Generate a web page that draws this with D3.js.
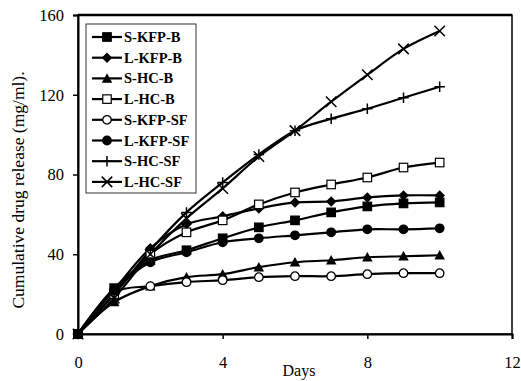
<!DOCTYPE html>
<html>
<head>
<meta charset="utf-8">
<script src="https://cdn.jsdelivr.net/npm/d3@7"></script>
<style>
  body { margin: 0; background: #fff; }
  svg { display: block; }
  text { font-family: "Liberation Serif", "Times New Roman", serif; fill: #000; }
</style>
</head>
<body>
<div id="chart"></div>
<script>
// data
var days = [0, 1, 2, 3, 4, 5, 6, 7, 8, 9, 10];
var sKfpB  = [0, 23, 37, 42, 48, 53.5, 57, 61, 64, 65.5, 66];
var lKfpB  = [0, 22, 43, 55, 59, 63, 66, 66.5, 68.5, 69.5, 69.5];
var sHcB   = [0, 16, 24, 28.5, 30, 33.5, 36, 37, 38.5, 39, 39.5];
var lHcB   = [0, 20, 40, 51, 57, 65, 71, 75, 78.5, 83.5, 86];
var sKfpSF = [0, 21, 24, 26, 27, 28.5, 29, 29, 30, 30.5, 30.5];
var lKfpSF = [0, 22, 36, 41, 46, 48, 49.5, 51, 52.5, 52.5, 53];
var sHcSF  = [0, 20, 42, 61, 76, 90, 102, 108, 113, 118.5, 124];
var lHcSF  = [0, 18, 40, 58, 73, 89, 102, 116.5, 130, 143, 152];
var names  = ["S-KFP-B", "L-KFP-B", "S-HC-B", "L-HC-B", "S-KFP-SF", "L-KFP-SF", "S-HC-SF", "L-HC-SF"];
var xTicks = [0, 4, 8, 12];
var yTicks = [0, 40, 80, 120, 160];

var series = [sKfpB, lKfpB, sHcB, lHcB, sKfpSF, lKfpSF, sHcSF, lHcSF];
var markers = ["fsquare", "diamond", "triangle", "osquare", "ocircle", "fcircle", "plus", "cross"];

var svgWidth = 521, svgHeight = 381;
var margin = { top: 15, right: 9, bottom: 47, left: 78 };
var width = svgWidth - margin.left - margin.right;
var height = svgHeight - margin.top - margin.bottom;

var svg = d3.select("#chart").append("svg")
  .attr("width", svgWidth)
  .attr("height", svgHeight);

var g = svg.append("g")
  .attr("transform", `translate(${margin.left}, ${margin.top})`);

var x = d3.scaleLinear().domain([0, 12]).range([0, width]);
var y = d3.scaleLinear().domain([0, 160]).range([height, 0]);

// frame
g.append("rect")
  .attr("width", width).attr("height", height)
  .attr("fill", "none").attr("stroke", "#000").attr("stroke-width", 1.5);
g.append("line").attr("x1", 0).attr("x2", width).attr("y1", 0).attr("y2", 0)
  .attr("stroke", "#000").attr("stroke-width", 2.5);

// axes
var xAxis = g.append("g")
  .attr("transform", `translate(0, ${height})`)
  .call(d3.axisBottom(x).tickValues(xTicks).tickSize(5).tickPadding(17));
var yAxis = g.append("g")
  .call(d3.axisLeft(y).tickValues(yTicks).tickSize(5).tickPadding(9));
[xAxis, yAxis].forEach(function(a) {
  a.select(".domain").attr("stroke-width", 2);
  a.selectAll(".tick line").attr("stroke-width", 1.5);
  a.selectAll("text").style("font-family", '"Liberation Serif", serif').style("font-size", "16.5px");
});

// marker drawing
function drawMarker(sel, type, s) {
  var h = s / 2;
  if (type === "fsquare" || type === "osquare") {
    sel.append("rect").attr("x", -h).attr("y", -h).attr("width", s).attr("height", s)
      .attr("fill", type === "fsquare" ? "#000" : "#fff").attr("stroke", "#000").attr("stroke-width", 1.2);
  } else if (type === "diamond") {
    sel.append("path").attr("d", `M0,${-h - 1}L${h + 1},0L0,${h + 1}L${-h - 1},0Z`).attr("fill", "#000");
  } else if (type === "triangle") {
    sel.append("path").attr("d", `M0,${-h - 1}L${h + 1},${h}L${-h - 1},${h}Z`).attr("fill", "#000");
  } else if (type === "ocircle" || type === "fcircle") {
    sel.append("circle").attr("r", h)
      .attr("fill", type === "fcircle" ? "#000" : "#fff").attr("stroke", "#000").attr("stroke-width", 1.3);
  } else if (type === "plus") {
    sel.append("path").attr("d", `M0,${-h - 1}V${h + 1}M${-h - 1},0H${h + 1}`)
      .attr("stroke", "#000").attr("stroke-width", 1.5);
  } else if (type === "cross") {
    sel.append("path").attr("d", `M${-h - 1},${-h - 1}L${h + 1},${h + 1}M${h + 1},${-h - 1}L${-h - 1},${h + 1}`)
      .attr("stroke", "#000").attr("stroke-width", 1.5);
  }
}

var line = d3.line()
  .x((d, i) => x(days[i]))
  .y(d => y(d))
  .curve(d3.curveCatmullRom.alpha(0.5));

series.forEach(function(vals, k) {
  g.append("path").datum(vals)
    .attr("d", line)
    .attr("fill", "none").attr("stroke", "#000").attr("stroke-width", 2.2);
});
series.forEach(function(vals, k) {
  g.selectAll(".m" + k).data(vals).enter().append("g")
    .attr("transform", (d, i) => `translate(${x(days[i])}, ${y(d)})`)
    .each(function() { drawMarker(d3.select(this), markers[k], 8.5); });
});

// legend
var legend = svg.append("g").attr("transform", "translate(86, 24)");
legend.append("rect").attr("width", 110).attr("height", 169)
  .attr("fill", "#fff").attr("stroke", "#333").attr("stroke-width", 1);
names.forEach(function(n, k) {
  var row = legend.append("g").attr("transform", `translate(0, ${13 + k * 20.7})`);
  row.append("line").attr("x1", 6).attr("x2", 36).attr("stroke", "#000").attr("stroke-width", 2.2);
  drawMarker(row.append("g").attr("transform", "translate(21,0)"), markers[k], 8.5);
  row.append("text").attr("x", 38).attr("dy", "0.35em")
    .style("font-size", "14.5px").style("font-weight", "bold").text(n);
});

// axis labels
svg.append("text")
  .attr("transform", "translate(24, 190) rotate(-90)")
  .attr("text-anchor", "middle")
  .style("font-size", "17.5px")
  .text("Cumulative drug release (mg/ml).");

svg.append("text")
  .attr("x", 299).attr("y", 376)
  .attr("text-anchor", "middle")
  .style("font-size", "16px")
  .text("Days");
</script>
</body>
</html>
